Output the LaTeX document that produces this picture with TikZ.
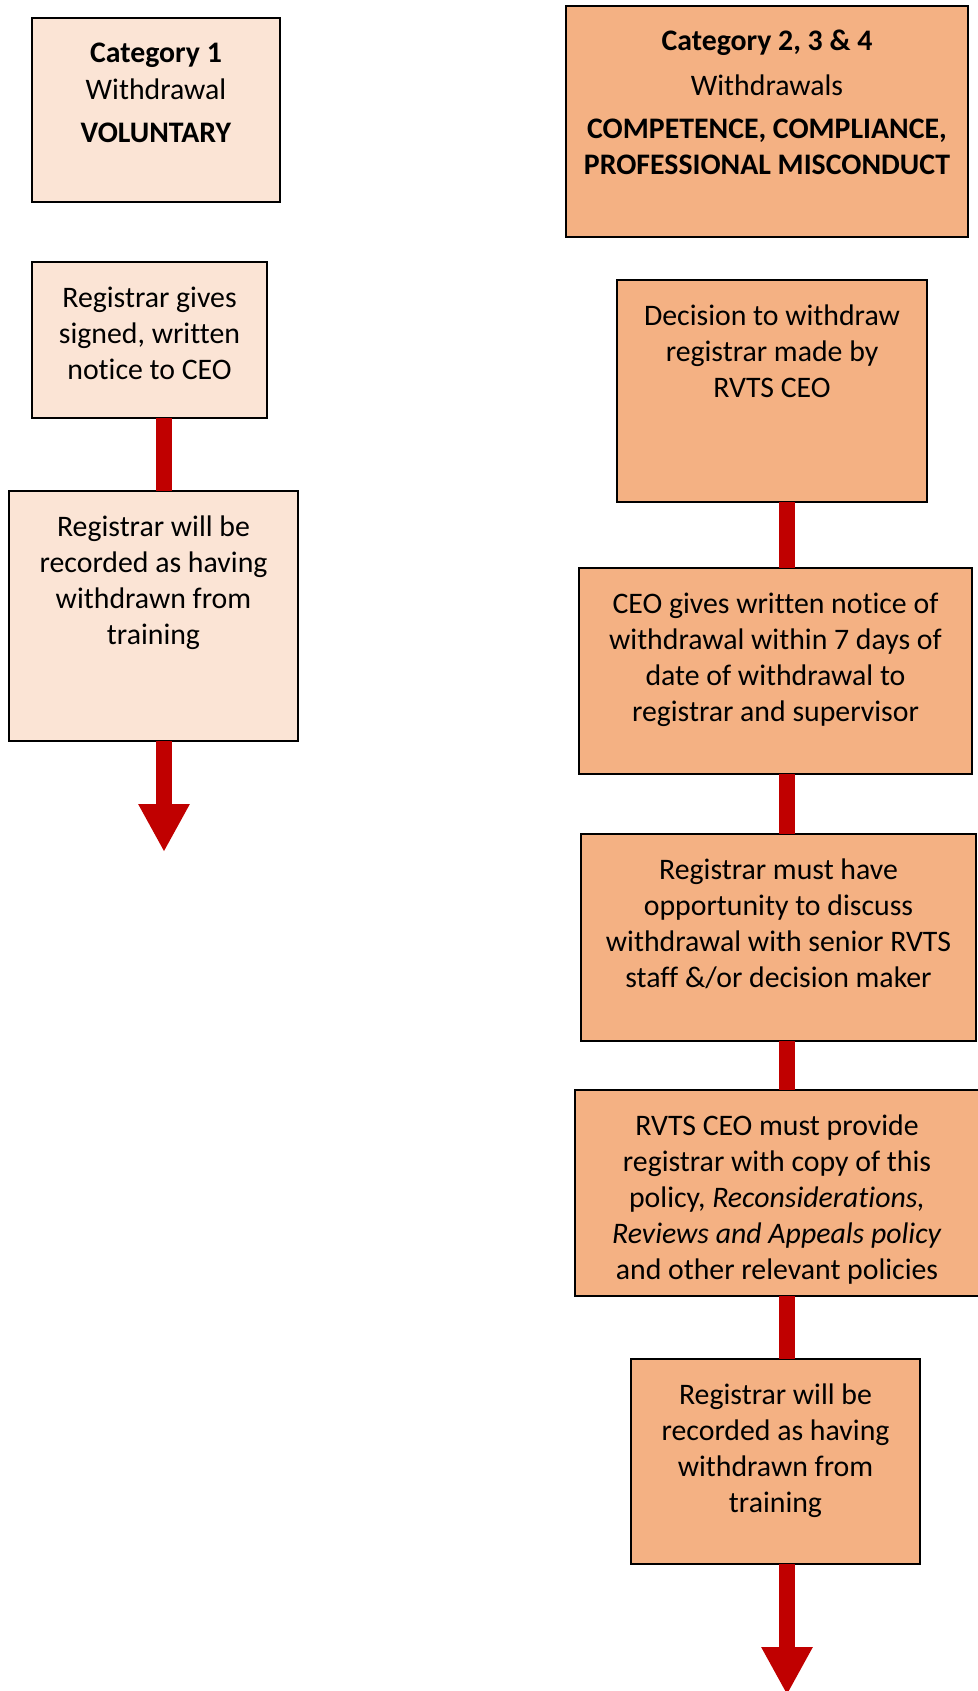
\documentclass[tikz,border=0pt]{standalone}
\usepackage{fontspec}
\setmainfont{Carlito}[Ligatures=NoCommon]
\usetikzlibrary{arrows.meta}
\definecolor{lightpeach}{HTML}{FBE4D5}
\definecolor{peach}{HTML}{F4B183}
\definecolor{arrowred}{HTML}{C00000}
\newcommand\boxtxt[3]{\parbox[c][#2pt][t]{#1pt}{\centering\fontsize{29.8pt}{36pt}\selectfont\vspace*{19.8pt}\strut #3}}
\tikzset{
  lbox/.style={draw=black, line width=1.3pt, fill=lightpeach, inner sep=0pt, outer sep=0pt},
  dbox/.style={draw=black, line width=1.3pt, fill=peach, inner sep=0pt, outer sep=0pt},
  conn/.style={draw=arrowred, line width=16pt, line cap=butt},
  endarrow/.style={conn, -{Triangle[width=48pt,length=48pt]}}
}
\begin{document}
\begin{tikzpicture}[x=1pt,y=-1pt]
\useasboundingbox (0,0) rectangle (977,1691);
\coordinate (lx) at (164,0);
\coordinate (rx) at (787,0);
\coordinate (lend) at (164,852);
\coordinate (rend) at (787,1695);

% left column
\node[lbox] (a1) at (156,110) {\boxtxt{248}{184}{\textbf{Category 1}\\[1pt] Withdrawal\\[7pt] \textbf{VOLUNTARY}}};
\node[lbox] (a2) at (149.5,340) {\boxtxt{235}{156}{Registrar gives\\ signed, written\\ notice to CEO}};
\node[lbox] (a3) at (153.5,616) {\boxtxt{289}{250}{Registrar will be\\ recorded as having\\ withdrawn from\\ training}};

% right column
\node[dbox] (b1) at (767,121.5) {\boxtxt{402}{231}{\textbf{Category 2, 3 \& 4}\\[9pt] Withdrawals\\[7pt] \textbf{COMPETENCE, COMPLIANCE,}\\ \textbf{PROFESSIONAL MISCONDUCT}}};
\node[dbox] (b2) at (772,391) {\boxtxt{310}{222}{Decision to withdraw\\ registrar made by\\ RVTS CEO}};
\node[dbox] (b3) at (775.5,671) {\boxtxt{393}{206}{CEO gives written notice of\\ withdrawal within 7 days of\\ date of withdrawal to\\ registrar and supervisor}};
\node[dbox] (b4) at (778.5,937.5) {\boxtxt{395}{207}{Registrar must have\\ opportunity to discuss\\ withdrawal with senior RVTS\\ staff \&/or decision maker}};
\node[dbox] (b5) at (777,1193) {\boxtxt{404}{206}{RVTS CEO must provide\\ registrar with copy of this\\ policy, \textit{Reconsiderations,}\\ \textit{Reviews and Appeals policy}\\ and other relevant policies}};
\node[dbox] (b6) at (775.5,1461.5) {\boxtxt{289}{205}{Registrar will be\\ recorded as having\\ withdrawn from\\ training}};

% connectors
\draw[conn] (a2.south -| lx) -- (a3.north -| lx);
\draw[endarrow] (a3.south -| lend) -- (lend);
\draw[conn] (b2.south -| rx) -- (b3.north -| rx);
\draw[conn] (b3.south -| rx) -- (b4.north -| rx);
\draw[conn] (b4.south -| rx) -- (b5.north -| rx);
\draw[conn] (b5.south -| rx) -- (b6.north -| rx);
\draw[endarrow] (b6.south -| rend) -- (rend);
\end{tikzpicture}
\end{document}
